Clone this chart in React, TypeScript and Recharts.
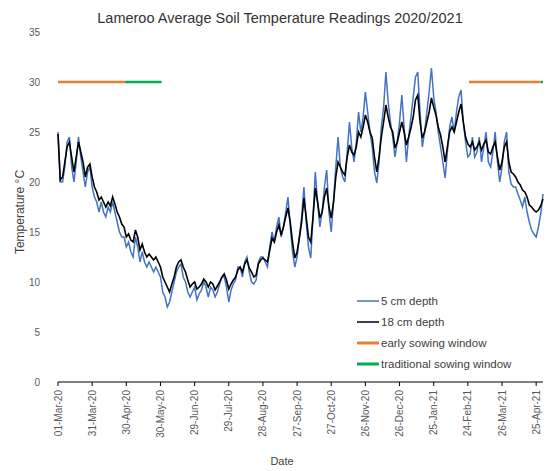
import React from 'react';
import { LineChart, Line, XAxis, YAxis, Label } from 'recharts';

// Readings every 2 days starting 01-Mar-20
const depth18: number[] = [
  24.8, 20.2, 20.5, 22, 23.5, 24, 22.5, 21, 22.5, 24,
  23, 22, 20.5, 21.5, 21.8, 20.5, 19.5, 19, 18.2, 18.5,
  18, 17.5, 18, 17.6, 18.5, 17.8, 17, 16.5, 15.8, 15.5,
  14.5, 14.8, 14.2, 14, 15.2, 14.5, 13.2, 13.8, 13, 12.5,
  12.8, 12.5, 12.2, 12.5, 12, 11.5, 10.5, 10, 9.5, 9,
  9.8, 10.5, 11.5, 12, 12.2, 11.5, 11, 10.2, 9.5, 9.8,
  10, 9.3, 9.5, 9.8, 10.3, 10, 9.5, 10, 9.8, 9.2,
  9.6, 10, 10.5, 10.8, 10.2, 9.3, 9.8, 10.2, 10.5, 11.2,
  11.5, 11, 11.8, 12.2, 11.4, 11, 10.5, 10.7, 11.8, 12.2,
  12.4, 12.2, 12, 13.2, 14.4, 14, 15, 15.7, 14.7, 15.5,
  16.5, 17.4, 16, 14, 12.4, 13, 14.4, 16, 18.4, 16.5,
  14.5, 14, 16.5, 19.4, 18, 16.4, 17, 18.5, 19.4, 17.5,
  16.4, 18, 20.5, 22, 21.5, 21, 20.7, 22.5, 23.7, 23,
  22.7, 23.5, 25, 24.5, 25.5, 26.7, 26, 25, 24.4, 22.5,
  21, 22.5, 24.5, 26, 27.7, 26.5, 25.5, 25, 23.4, 24,
  25, 26, 25, 23.7, 24.5, 25.4, 26.5, 28.2, 28.7, 26,
  24.4, 25, 26, 27, 28.4, 27.5, 26.7, 25.5, 24.7, 23.5,
  22, 23.5, 25, 25.5, 25, 26, 27, 27.8, 26, 24.5,
  23.8, 23.5, 24, 23.2, 23.5, 24, 23.2, 23.8, 24.2, 23,
  22.8, 23.5, 24, 22.5, 21.2, 22, 23.5, 24, 22, 21,
  20.8, 20.5, 20, 19.7, 19.2, 19, 18.5, 17.7, 17.5, 17.2,
  17, 17.2, 17.6, 18.3,
];

const depth5: number[] = [
  25, 20, 20, 21.5, 24, 24.5, 21.5, 20, 22, 24.5,
  22.5, 21, 19.5, 21, 21.5, 19.5, 18.5, 18, 17, 18,
  17, 16.5, 17.5, 17, 18, 17, 16, 15, 14.5, 14.5,
  13.5, 14, 13, 12.5, 14.5, 13.5, 12, 13, 12, 11.5,
  12, 11.5, 11, 11.5, 11, 10.5, 9, 8.5, 7.5, 8,
  9, 10, 11, 11.5, 11.8, 10.5, 10, 9, 8.5, 9,
  9.5, 8.2, 8.8, 9.2, 10, 9.5, 8.5, 9.5, 9.2, 8.5,
  9, 9.8, 10.5, 10.5, 9.5, 8, 9.2, 9.8, 10.2, 11.5,
  11.5, 10.5, 12, 12.5, 11, 10, 9.8, 10.2, 12, 12.5,
  12.5, 12, 11.5, 13.5, 15, 14, 15.5, 16.5, 14.5, 15.5,
  17, 18.5, 15.5, 13, 11.5, 12.5, 14.5, 16.5, 19.5, 16,
  13.5, 12.4, 16.5, 21, 18, 15.5, 17, 19.5, 21.2, 17,
  15, 18, 21.5, 24.5, 21.5, 20.5, 20, 23, 26, 23.5,
  22, 24, 27, 25, 26.5, 29, 27, 25, 23.5, 21,
  19.9, 22, 25.5, 27.5, 31, 28, 26, 24.5, 22.5, 24,
  26, 28.7, 25.5, 22, 24.5, 26.5, 28.5, 30.5, 31, 27,
  23.5, 25, 27, 29, 31.4, 28.5, 27, 25, 23.5, 22,
  20.4, 23, 25.5, 26.5, 25, 27, 28.5, 29.2, 26, 24,
  22.5, 22.8, 24.5, 22.5, 23, 24.5, 22, 23.5, 25, 22,
  21.5, 23, 25, 22, 20, 21.5, 24, 25, 21, 19.8,
  19.5, 19.5, 18.8, 18.2, 17.5, 18.5, 17, 16, 15.2, 14.8,
  14.5, 15.5, 16.8, 18.8,
];

const stepDays = 2;
const tickDays = [0, 30, 60, 90, 120, 150, 180, 210, 240, 270, 300, 330, 360, 390, 420];
const tickLabels = [
  '01-Mar-20', '31-Mar-20', '30-Apr-20', '30-May-20', '29-Jun-20', '29-Jul-20', '28-Aug-20',
  '27-Sep-20', '27-Oct-20', '26-Nov-20', '26-Dec-20', '25-Jan-21', '24-Feb-21', '26-Mar-21', '25-Apr-21',
];
const yTicks = [0, 5, 10, 15, 20, 25, 30, 35];

const windowLevel = 30;
const earlyWindows: [number, number][] = [[0, 59], [361, 424]];
const traditionalWindows: [number, number][] = [[59, 91], [424, 426]];

const data = depth18.map((v, i) => ({ day: i * stepDays, d18: v, d5: depth5[i] }));

const COLORS = { d5: '#4472C4', d18: '#000000', early: '#ED7D31', trad: '#00B050' };
const FONT = 'Liberation Sans, Arial, sans-serif';

const legendItems = [
  { label: '5 cm depth', color: COLORS.d5, w: 1.5 },
  { label: '18 cm depth', color: COLORS.d18, w: 1.5 },
  { label: 'early sowing window', color: COLORS.early, w: 3 },
  { label: 'traditional sowing window', color: COLORS.trad, w: 3 },
];

const XTick = (props: any) => {
  const { x, y, payload } = props;
  const idx = tickDays.indexOf(payload.value);
  const label = idx >= 0 ? tickLabels[idx] : '';
  return (
    <text
      x={x}
      y={y + 2}
      transform={`rotate(-90, ${x}, ${y + 2})`}
      textAnchor="end"
      dy="0.35em"
      fontSize={10}
      fill="#595959"
      fontFamily={FONT}
    >
      {label}
    </text>
  );
};

export default function App() {
  return (
    <div style={{ position: 'absolute', left: 0, top: 0, width: 546, height: 471, background: '#fff' }}>
      <LineChart
        width={546}
        height={471}
        data={data}
        margin={{ top: 32, right: 3, left: 0, bottom: 0 }}
      >
        <text x={280} y={23} textAnchor="middle" fontSize={14.5} fill="#333" fontFamily={FONT}>
          Lameroo Average Soil Temperature Readings 2020/2021
        </text>
        <XAxis
          dataKey="day"
          type="number"
          domain={[0, 426]}
          ticks={tickDays}
          interval={0}
          tick={<XTick />}
          tickSize={4}
          height={89}
          axisLine={{ stroke: '#000', strokeWidth: 1.2 }}
          tickLine={{ stroke: '#000' }}
        >
          <Label
            content={() => (
              <text x={282} y={465} textAnchor="middle" fontSize={11} fill="#404040" fontFamily={FONT}>
                Date
              </text>
            )}
          />
        </XAxis>
        <YAxis
          type="number"
          domain={[0, 35]}
          ticks={yTicks}
          interval={0}
          width={58}
          axisLine={false}
          tickLine={false}
          tickSize={0}
          tickMargin={18}
          tick={{ fontSize: 10, fill: '#595959', fontFamily: FONT }}
        >
          <Label
            content={() => (
              <text
                x={20}
                y={212}
                transform="rotate(-90, 20, 212)"
                textAnchor="middle"
                dy="0.35em"
                fontSize={12}
                fill="#404040"
                fontFamily={FONT}
              >
                Temperature °C
              </text>
            )}
          />
        </YAxis>
        <Line dataKey="d5" stroke={COLORS.d5} strokeWidth={1.5} dot={false} isAnimationActive={false} type="linear" />
        <Line dataKey="d18" stroke={COLORS.d18} strokeWidth={1.6} dot={false} isAnimationActive={false} type="linear" />
        {earlyWindows.map(([a, b], i) => (
          <Line
            key={`e${i}`}
            data={[{ day: a, w: windowLevel }, { day: b, w: windowLevel }]}
            dataKey="w"
            stroke={COLORS.early}
            strokeWidth={2.5}
            dot={false}
            isAnimationActive={false}
            type="linear"
          />
        ))}
        {traditionalWindows.map(([a, b], i) => (
          <Line
            key={`t${i}`}
            data={[{ day: a, w: windowLevel }, { day: b, w: windowLevel }]}
            dataKey="w"
            stroke={COLORS.trad}
            strokeWidth={2.5}
            dot={false}
            isAnimationActive={false}
            type="linear"
          />
        ))}
      </LineChart>
      <div
        style={{
          position: 'absolute',
          left: 357,
          top: 290,
          width: 189,
          fontFamily: FONT,
          fontSize: 11.5,
          color: '#404040',
        }}
      >
        {legendItems.map((it) => (
          <div key={it.label} style={{ display: 'flex', alignItems: 'center', height: 21 }}>
            <svg width={22} height={6} style={{ marginRight: 2 }}>
              <line x1={0} y1={3} x2={22} y2={3} stroke={it.color} strokeWidth={it.w} />
            </svg>
            <span>{it.label}</span>
          </div>
        ))}
      </div>
    </div>
  );
}
